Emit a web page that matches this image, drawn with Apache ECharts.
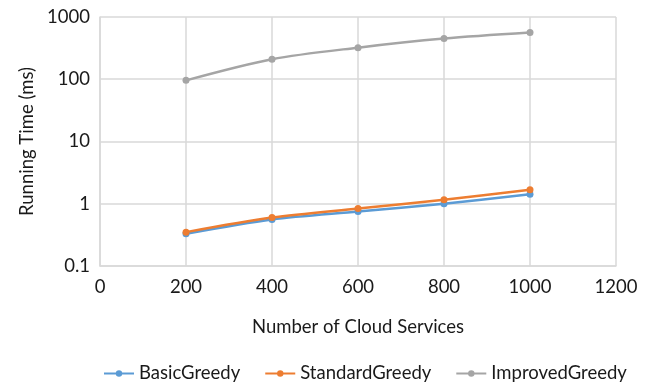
<!DOCTYPE html>
<html>
<head>
<meta charset="utf-8">
<script src="https://cdn.jsdelivr.net/npm/echarts@6/dist/echarts.min.js"></script>
<style>
  html, body { margin: 0; padding: 0; background: #fff; }
  #chart { width: 646px; height: 385px; }
</style>
</head>
<body>
<div id="chart"></div>
<script>
// x values (number of cloud services)
const services = [200, 400, 600, 800, 1000]
// running time in ms
const basicGreedy = [0.33, 0.56, 0.75, 1.0, 1.42]
const standardGreedy = [0.35, 0.60, 0.84, 1.16, 1.68]
const improvedGreedy = [96, 210, 322, 450, 562]

const font = 'Lato, "Open Sans", sans-serif'
const textColor = '#1a1a1a'
const fontSize = 18.5

const makeSeries = (name, values, color) => ({
    name,
    type: 'line',
    smooth: 0.3,
    data: services.map((x, i) => [x, values[i]]),
    symbol: 'circle',
    symbolSize: 7,
    lineStyle: { color, width: 2.5 },
    itemStyle: { color }
})

const chart = echarts.init(document.getElementById('chart'))
chart.setOption({
    animation: false,
    grid: { left: 100, right: 30, top: 17, bottom: 119 },
    xAxis: {
        type: 'value',
        min: 0,
        max: 1200,
        interval: 200,
        name: 'Number of Cloud Services',
        nameLocation: 'middle',
        nameGap: 52,
        nameTextStyle: { fontSize, color: textColor, fontFamily: font },
        axisLine: { show: true, lineStyle: { color: '#d9d9d9', width: 1.5 } },
        axisTick: { show: false },
        axisLabel: { fontSize, color: textColor, fontFamily: font, margin: 12, formatter: v => String(v) },
        splitLine: { show: true, lineStyle: { color: '#d9d9d9', width: 1.5 } }
    },
    yAxis: {
        type: 'log',
        logBase: 10,
        min: 0.1,
        max: 1000,
        name: 'Running Time (ms)',
        nameLocation: 'middle',
        nameGap: 62,
        nameTextStyle: { fontSize, color: textColor, fontFamily: font },
        axisLine: { show: true, lineStyle: { color: '#d9d9d9', width: 1.5 } },
        axisTick: { show: false },
        axisLabel: { fontSize, color: textColor, fontFamily: font, margin: 10, formatter: v => String(+v.toPrecision(3)) },
        splitLine: { show: true, lineStyle: { color: '#d9d9d9', width: 1.5 } }
    },
    legend: {
        top: 359,
        left: 98,
        itemGap: 24,
        itemWidth: 30,
        itemHeight: 8,
        textStyle: { fontSize, color: textColor, fontFamily: font },
        data: ['BasicGreedy', 'StandardGreedy', 'ImprovedGreedy']
    },
    series: [
        makeSeries('BasicGreedy', basicGreedy, '#5B9BD5'),
        makeSeries('StandardGreedy', standardGreedy, '#ED7D31'),
        makeSeries('ImprovedGreedy', improvedGreedy, '#A5A5A5')
    ]
})
</script>
</body>
</html>
